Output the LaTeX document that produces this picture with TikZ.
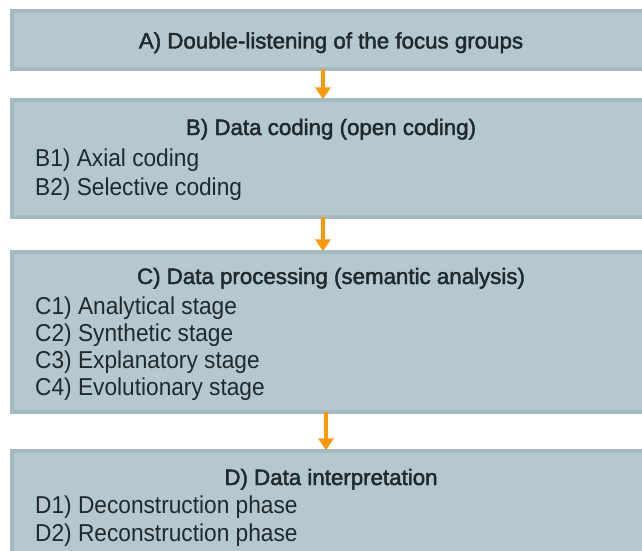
\documentclass[tikz,border=0pt]{standalone}
\usepackage{fontspec}
\setmainfont[FakeStretch=0.93]{Liberation Sans}
\newfontfamily\stagetitlefont[FakeBold=2]{Liberation Sans}
\newfontfamily\stageitemfont[FakeStretch=0.93]{Liberation Sans}
\usetikzlibrary{arrows.meta}
\definecolor{boxfill}{HTML}{B5C8D0}
\definecolor{boxline}{HTML}{A3BAC3}
\definecolor{txt}{HTML}{1F292E}
\definecolor{arrc}{HTML}{FD9808}
\begin{document}
\begin{tikzpicture}[x=1pt,y=-1pt,
  stagebox/.style={draw=boxline,fill=boxfill,line width=3.5pt,minimum width=638pt,inner sep=0pt},
  title/.style={anchor=base,text=txt,font=\stagetitlefont\fontsize{22.3}{26}\selectfont,inner sep=0pt},
  item/.style={anchor=base west,text=txt,font=\stageitemfont\fontsize{24.4}{28}\selectfont,inner sep=0pt},
  flow/.style={draw=arrc,line width=4pt,-{Triangle[width=15pt,length=12pt]}}]
\useasboundingbox (0,0) rectangle (642,551);
\fill[white] (0,0) rectangle (642,551);
\begin{scope}
\clip (0,0) rectangle (642,551);
\node[stagebox,minimum height=58pt] (A) at (331,40) {};
\node[stagebox,minimum height=117pt] (B) at (331,158.5) {};
\node[stagebox,minimum height=160pt] (C) at (331,332) {};
\node[stagebox,minimum height=127pt] (D) at (331,514.5) {};
\end{scope}
\node[title] (At) at (331,48.5) {A) Double-listening of the focus groups};
\node[title] (Bt) at (331,135) {B) Data coding (open coding)};
\node[item] (B1) at (35,166) {B1) Axial coding};
\node[item] (B2) at (35,195) {B2) Selective coding};
\node[title] (Ct) at (331,284) {C) Data processing (semantic analysis)};
\node[item] (C1) at (35,314.5) {C1) Analytical stage};
\node[item] (C2) at (35,341) {C2) Synthetic stage};
\node[item] (C3) at (35,368) {C3) Explanatory stage};
\node[item] (C4) at (35,395) {C4) Evolutionary stage};
\node[title] (Dt) at (331,485) {D) Data interpretation};
\node[item] (D1) at (35,513) {D1) Deconstruction phase};
\node[item] (D2) at (35,541) {D2) Reconstruction phase};
\coordinate (ab) at (323,0);
\coordinate (bc) at (323,0);
\coordinate (cd) at (326,0);
\draw[flow] ([yshift=1.5pt]A.south -| ab) -- ([yshift=-1pt]B.north -| ab);
\draw[flow] ([yshift=1.5pt]B.south -| bc) -- ([yshift=-1pt]C.north -| bc);
\draw[flow] ([yshift=1.5pt]C.south -| cd) -- ([yshift=-1pt]D.north -| cd);
\end{tikzpicture}
\end{document}
